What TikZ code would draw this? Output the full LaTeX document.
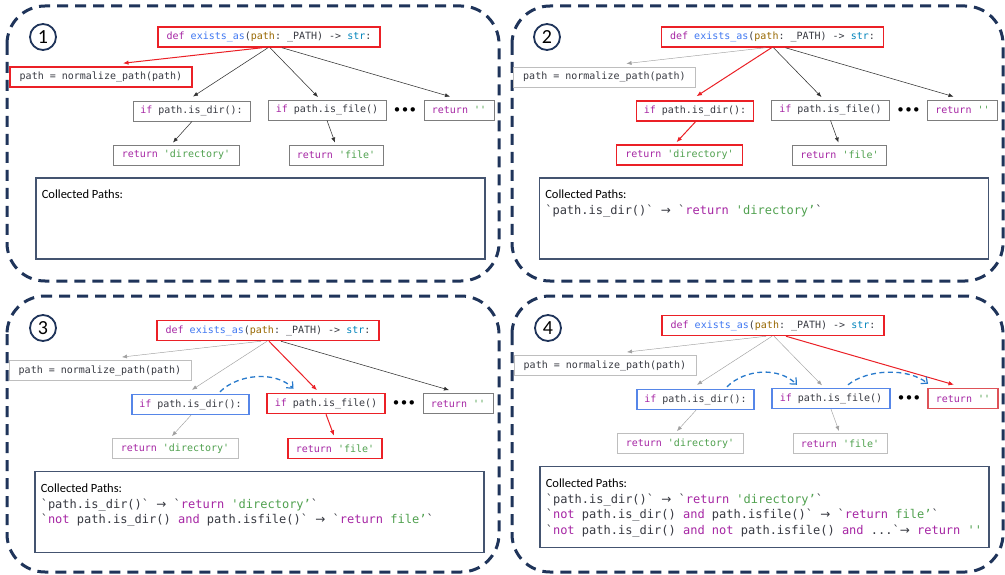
\documentclass[tikz,border=0pt]{standalone}
\usepackage{fontspec}
\setmainfont{Carlito}
\setmonofont{DejaVu Sans Mono}
\newfontfamily\dotsfont{DejaVu Sans}
\usetikzlibrary{arrows.meta}
\definecolor{txt}{HTML}{383A42}
\definecolor{kwc}{HTML}{A626A4}
\definecolor{fnc}{HTML}{4078F2}
\definecolor{pvc}{HTML}{986801}
\definecolor{tyc}{HTML}{0184BC}
\definecolor{sqc}{HTML}{50A14F}
\definecolor{navy}{RGB}{31,52,90}
\definecolor{collc}{RGB}{68,84,112}
\definecolor{cHot}{RGB}{235,32,38}
\definecolor{cHotSoft}{RGB}{222,82,88}
\definecolor{cMid}{RGB}{125,125,125}
\definecolor{cDim}{RGB}{190,190,190}
\definecolor{cBlue}{RGB}{86,134,232}
\definecolor{hopc}{RGB}{40,122,204}
\definecolor{edgeblk}{RGB}{50,50,50}
\definecolor{edgedim}{RGB}{160,160,160}
\newcommand\cKw[1]{\textcolor{kwc}{#1}}
\newcommand\cFn[1]{\textcolor{fnc}{#1}}
\newcommand\cPv[1]{\textcolor{pvc}{#1}}
\newcommand\cTy[1]{\textcolor{tyc}{#1}}
\newcommand\cSq[1]{\textcolor{sqc}{#1}}
\newcommand\rarr{{\dotsfont →}}
\tikzset{
  treebox/.style={draw, line width=0.9pt, minimum height=20pt, inner sep=0pt, text=txt,
    font=\ttfamily\fontsize{10}{12}\selectfont},
  hotbox/.style={treebox, draw=cHot, line width=1.5pt},
  hotsoftbox/.style={treebox, draw=cHotSoft, line width=1.5pt},
  midbox/.style={treebox, draw=cMid},
  dimbox/.style={treebox, draw=cDim},
  bluebox/.style={treebox, draw=cBlue, line width=1.4pt},
  eblk/.style={draw=edgeblk, line width=0.55pt, -{Latex[length=5pt,width=4pt]}},
  ehot/.style={draw=cHot, line width=1pt, -{Latex[length=5.5pt,width=4.5pt]}},
  edim/.style={draw=edgedim, line width=0.45pt, -{Latex[length=5pt,width=4pt]}},
  hop/.style={draw=hopc, line width=1.3pt, dash pattern=on 5pt off 3.5pt,
    -{Straight Barb[length=5pt,width=9pt,line width=1.2pt]}},
  panelframe/.style={draw=navy, line width=3pt, dash pattern=on 11pt off 7pt, rounded corners=38pt},
  numc/.style={circle, draw=navy, line width=1.8pt, minimum size=26pt, inner sep=0pt,
    font=\fontsize{20}{20}\selectfont},
  collbox/.style={draw=collc, line width=1.8pt, minimum width=449pt, minimum height=81pt, inner sep=0pt},
  ctitle/.style={anchor=base west, inner sep=0pt, text=black, font=\fontsize{12.5}{14}\selectfont},
  cline/.style={anchor=base west, inner sep=0pt, text=txt, font=\ttfamily\fontsize{12}{14}\selectfont},
  dotsnode/.style={inner sep=0pt, font=\dotsfont\bfseries\fontsize{12.5}{13}\selectfont},
}
\newcommand\treebody[1]{%
  \node[sDef, minimum width=222pt] (#1def) at (269,37)
    {\cKw{def} \cFn{exists\_as}(\cPv{path}: \_PATH) -> \cTy{str}:};
  \node[sNorm, minimum width=182pt] (#1norm) at (101,77) {path = normalize\_path(path)};
  \node[sDir, minimum width=117pt] (#1isdir) at (191.5,111) {\cKw{if} path.is\_dir():};
  \node[sFile, minimum width=118pt] (#1isfile) at (327,110) {\cKw{if} path.is\_file()};
  \node[dotsnode] (#1dots) at (405,111) {•••};
  \node[sE, minimum width=70pt] (#1retE) at (459,110) {\cKw{return} \cSq{''}};
  \node[sRD, minimum width=126pt] (#1retD) at (176,155) {\cKw{return} \cSq{'directory'}};
  \node[sRF, minimum width=94pt] (#1retF) at (336,155) {\cKw{return} \cSq{'file'}};
  \draw[eNorm] ([shift={(-7,0)}]#1def.south) -- ([shift={(22,-3)}]#1norm.north);
  \draw[eDir] ([shift={(-1,0)}]#1def.south) -- ([shift={(1.5,-4)}]#1isdir.north);
  \draw[eFile] ([shift={(1,0)}]#1def.south) -- ([shift={(-9,-2.5)}]#1isfile.north);
  \draw[eE] ([shift={(13,0)}]#1def.south) -- ([shift={(-9,-3)}]#1retE.north);
  \draw[eRD] ([shift={(0.5,0)}]#1isdir.south) -- ([shift={(-3,-2)}]#1retD.north);
  \draw[eRF] (#1isfile.south) -- ([shift={(-1,-2)}]#1retF.north);
  \node[collbox] (#1coll) at (260.5,218.5) {};
  \node[ctitle] (#1c0) at ([shift={(6.5,21.5)}]#1coll.north west) {Collected Paths:};
}
\begin{document}
\begin{tikzpicture}[x=1pt,y=-1pt]
\useasboundingbox (0,0) rectangle (1005,575);
\fill[white] (0,0) rectangle (1005,575);
% frames and numbers
\draw[panelframe] (7,6) rectangle (499,281);
\draw[panelframe] (512,6) rectangle (1003,281);
\draw[panelframe] (7,296) rectangle (499,572);
\draw[panelframe] (512,296) rectangle (1003,572);
\node[numc] (n1) at (43,37) {1};
\node[numc] (n2) at (547,37) {2};
\node[numc] (n3) at (43,328) {3};
\node[numc] (n4) at (548,328) {4};
% panel 1
\begin{scope}[sDef/.style=hotbox, sNorm/.style=hotbox, sDir/.style=midbox, sFile/.style=midbox,
  sE/.style=midbox, sRD/.style=midbox, sRF/.style=midbox,
  eNorm/.style=ehot, eDir/.style=eblk, eFile/.style=eblk, eE/.style=eblk, eRD/.style=eblk, eRF/.style=eblk]
  \treebody{A}
\end{scope}
% panel 2
\begin{scope}[shift={(503.5,0)},
  sDef/.style=hotbox, sNorm/.style=dimbox, sDir/.style=hotbox, sFile/.style=midbox,
  sE/.style=midbox, sRD/.style=hotbox, sRF/.style=midbox,
  eNorm/.style=edim, eDir/.style=ehot, eFile/.style=eblk, eE/.style=eblk, eRD/.style=ehot, eRF/.style=eblk]
  \treebody{B}
  \node[cline] (B1) at ([shift={(6.5,37.5)}]Bcoll.north west) {`path.is\_dir()` \rarr{} `\cKw{return} \cSq{'directory’}`};
\end{scope}
% panel 3
\begin{scope}[shift={(-1,293.5)},
  sDef/.style=hotbox, sNorm/.style=dimbox, sDir/.style=bluebox, sFile/.style=hotbox,
  sE/.style=midbox, sRD/.style=dimbox, sRF/.style=hotbox,
  eNorm/.style=edim, eDir/.style=edim, eFile/.style=ehot, eE/.style=eblk, eRD/.style=edim, eRF/.style=ehot]
  \treebody{C}
  \draw[hop] ([shift={(29.5,-2)}]Cisdir.north) .. controls +(18,-18) and +(-18,-18) .. ([shift={(-32.5,-4)}]Cisfile.north);
  \node[cline] (C1) at ([shift={(6.5,37.5)}]Ccoll.north west) {`path.is\_dir()` \rarr{} `\cKw{return} \cSq{'directory’}`};
  \node[cline] (C2) at ([shift={(6.5,53)}]Ccoll.north west) {`\cKw{not} path.is\_dir() \cKw{and} path.isfile()` \rarr{} `\cKw{return} \cSq{file’}`};
\end{scope}
% panel 4
\begin{scope}[shift={(504,288.5)},
  sDef/.style=hotbox, sNorm/.style=dimbox, sDir/.style=bluebox, sFile/.style=bluebox,
  sE/.style=hotsoftbox, sRD/.style=dimbox, sRF/.style=dimbox,
  eNorm/.style=edim, eDir/.style=edim, eFile/.style=edim, eE/.style=ehot, eRD/.style=edim, eRF/.style=edim]
  \treebody{D}
  \draw[hop] ([shift={(31.5,-2)}]Disdir.north) .. controls +(18,-18) and +(-18,-18) .. ([shift={(-34,-3)}]Disfile.north);
  \draw[hop] ([shift={(17,-3)}]Disfile.north) .. controls +(20,-16) and +(-20,-16) .. ([shift={(-35,-4)}]DretE.north);
  \node[cline] (D1) at ([shift={(6.5,37.5)}]Dcoll.north west) {`path.is\_dir()` \rarr{} `\cKw{return} \cSq{'directory’}`};
  \node[cline] (D2) at ([shift={(6.5,53)}]Dcoll.north west) {`\cKw{not} path.is\_dir() \cKw{and} path.isfile()` \rarr{} `\cKw{return} \cSq{file’}`};
  \node[cline] (D3) at ([shift={(6.5,68.5)}]Dcoll.north west) {`\cKw{not} path.is\_dir() \cKw{and} \cKw{not} path.isfile() \cKw{and} ...`\rarr{} \cKw{return} \cSq{''}};
\end{scope}
\end{tikzpicture}
\end{document}
